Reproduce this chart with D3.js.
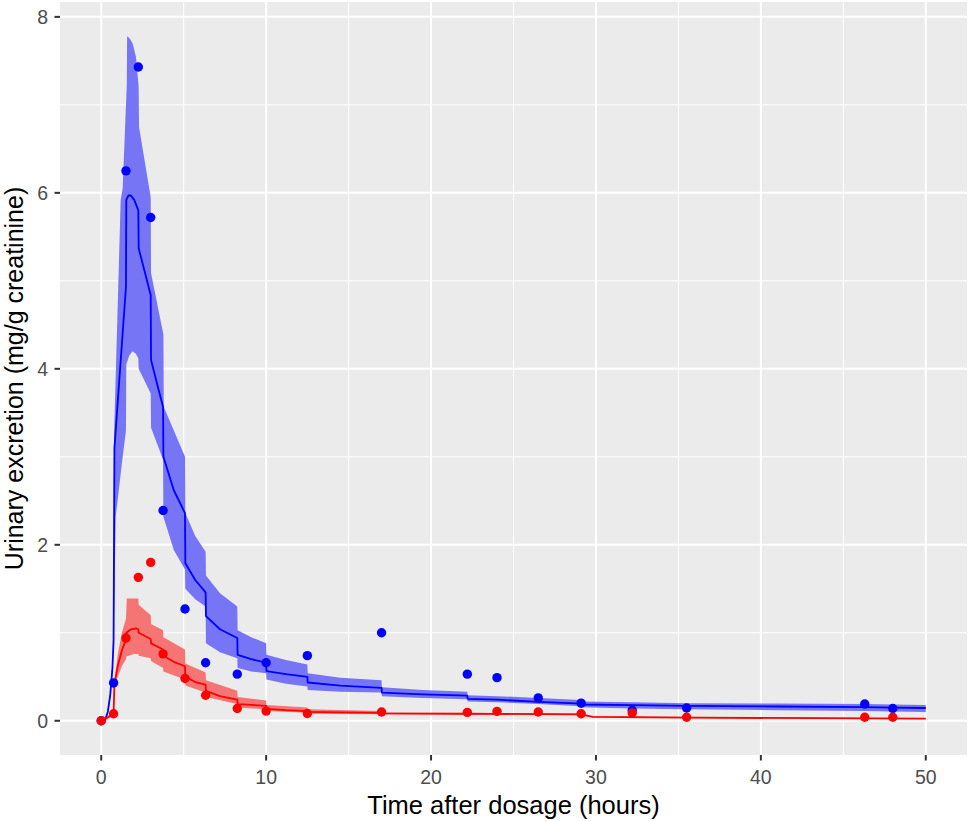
<!DOCTYPE html>
<html>
<head>
<meta charset="utf-8">
<script src="https://cdn.jsdelivr.net/npm/d3@7"></script>
<style>
  body { margin: 0; background: #fff; }
  svg { display: block; font-family: "Liberation Sans", Arial, sans-serif; }
</style>
</head>
<body>
<svg id="chart" width="968" height="821"></svg>
<script>
// observed urinary excretion (mg/g creatinine) by time after dosage (hours)
const obsTime = [0, 0.75, 1.5, 2.25, 3, 3.75, 5.08, 6.33, 8.25, 10, 12.5, 17, 22.2, 24, 26.5, 29.1, 32.2, 35.5, 46.3, 48];
const blueObs = [0, 0.43, 6.25, 7.43, 5.72, 2.39, 1.27, 0.66, 0.53, 0.66, 0.74, 1.0, 0.53, 0.49, 0.26, 0.20, 0.12, 0.145, 0.19, 0.14];
const redObs  = [0, 0.08, 0.94, 1.63, 1.80, 0.76, 0.48, 0.29, 0.14, 0.11, 0.083, 0.10, 0.095, 0.107, 0.10, 0.08, 0.088, 0.04, 0.04, 0.04];

// model prediction (median) and band, [time, value]
const blueMid = [[0,0],[0.25,0.02],[0.4,0.1],[0.55,0.3],[0.68,0.6],[0.75,0.92],[0.8,3.1],[1.5,4.93],[1.52,5.92],[1.65,5.97],[1.8,5.97],[2.0,5.92],[2.25,5.8],[2.27,5.37],[3.0,4.84],[3.02,4.1],[3.4,3.82],[3.75,3.57],[3.77,3.0],[4.4,2.62],[5.08,2.36],[5.1,1.79],[5.7,1.6],[6.33,1.46],[6.35,1.19],[7.2,1.04],[8.25,0.94],[8.27,0.75],[9.1,0.7],[10,0.66],[10.02,0.565],[11.2,0.53],[12.5,0.5],[12.52,0.435],[14.5,0.4],[17,0.375],[17.02,0.32],[19.5,0.3],[22.2,0.285],[22.22,0.25],[24,0.24],[26.5,0.215],[29.1,0.195],[29.12,0.185],[32.2,0.178],[35.5,0.17],[41,0.162],[46.3,0.155],[48,0.15],[50,0.145]];
const blueHi  = [[0,0],[0.25,0.03],[0.4,0.12],[0.55,0.33],[0.68,0.65],[0.75,1.0],[0.78,3.27],[1.18,5.92],[1.3,6.05],[1.55,7.23],[1.57,7.78],[1.7,7.76],[1.9,7.70],[2.1,7.55],[2.27,7.21],[2.29,6.75],[3.0,5.95],[3.02,5.09],[3.77,4.39],[3.79,3.57],[5.08,3.0],[5.1,2.36],[5.7,2.1],[6.33,1.92],[6.35,1.65],[7.2,1.45],[8.25,1.30],[8.27,1.03],[9.1,0.95],[10,0.88],[10.02,0.75],[11.2,0.69],[12.5,0.64],[12.52,0.54],[14.5,0.49],[17,0.46],[17.02,0.38],[19.5,0.35],[22.2,0.33],[22.22,0.29],[24,0.28],[26.5,0.26],[29.1,0.235],[29.12,0.22],[32.2,0.21],[35.5,0.2],[41,0.195],[46.3,0.19],[48,0.185],[50,0.18]];
const blueLo  = [[0,0],[0.25,0.01],[0.4,0.08],[0.55,0.27],[0.68,0.55],[0.75,0.9],[0.88,2.32],[1.28,2.97],[1.5,3.3],[1.52,4.05],[1.7,4.15],[1.9,4.2],[2.1,4.17],[2.25,4.12],[2.27,4.0],[3.0,3.72],[3.02,3.33],[3.75,2.97],[3.77,2.32],[4.4,1.94],[5.08,1.72],[5.1,1.5],[5.7,1.38],[6.33,1.30],[6.35,0.88],[7.2,0.78],[8.25,0.71],[8.27,0.6],[9.1,0.56],[10,0.54],[10.02,0.47],[11.2,0.42],[12.5,0.39],[12.52,0.35],[14.5,0.33],[17,0.32],[17.02,0.28],[19.5,0.26],[22.2,0.245],[22.22,0.22],[24,0.21],[26.5,0.19],[29.1,0.165],[29.12,0.155],[32.2,0.14],[35.5,0.13],[41,0.12],[46.3,0.11],[48,0.105],[50,0.1]];

const redMid = [[0,0],[0.25,0.02],[0.5,0.05],[0.75,0.09],[0.8,0.42],[1.0,0.62],[1.25,0.8],[1.5,0.92],[1.52,1.0],[1.8,1.04],[2.1,1.05],[2.25,1.04],[2.27,1.0],[3.0,0.93],[3.02,0.88],[3.75,0.81],[3.77,0.74],[4.4,0.67],[5.08,0.62],[5.1,0.5],[5.7,0.44],[6.33,0.41],[6.35,0.34],[7.2,0.28],[8.25,0.24],[8.27,0.19],[9.1,0.18],[10,0.17],[10.02,0.135],[11.2,0.12],[12.5,0.11],[12.52,0.1],[14.5,0.095],[17,0.09],[17.02,0.085],[22.2,0.08],[24,0.078],[29.1,0.073],[29.8,0.045],[35.5,0.035],[50,0.025]];
const redHi  = [[0,0],[0.75,0.1],[0.8,0.45],[1.0,0.75],[1.25,1.0],[1.5,1.16],[1.55,1.39],[2.25,1.39],[2.27,1.32],[3.0,1.2],[3.02,1.1],[3.75,1.03],[3.77,0.95],[5.08,0.81],[5.1,0.65],[6.33,0.55],[6.35,0.46],[8.25,0.34],[8.27,0.27],[10,0.23],[10.02,0.18],[12.5,0.15],[12.52,0.13],[17,0.11],[17.02,0.095],[29.1,0.082],[29.8,0.05],[50,0.03]];
const redLo  = [[0,0],[0.75,0.08],[0.8,0.38],[1.0,0.5],[1.25,0.62],[1.5,0.7],[1.52,0.73],[2.0,0.76],[2.25,0.76],[2.27,0.74],[3.0,0.71],[3.02,0.68],[3.75,0.6],[3.77,0.56],[5.08,0.47],[5.1,0.4],[6.33,0.32],[6.35,0.27],[8.25,0.19],[8.27,0.15],[10,0.13],[10.02,0.11],[12.5,0.09],[12.52,0.08],[17,0.075],[29.1,0.066],[29.8,0.04],[50,0.02]];

const xTicks = [0, 10, 20, 30, 40, 50];
const xMinor = [5, 15, 25, 35, 45];
const yTicks = [0, 2, 4, 6, 8];
const yMinor = [1, 3, 5, 7];

const panel = { left: 60, right: 967, top: 2, bottom: 755 };

const svg = d3.select("#chart");
const x = d3.scaleLinear().domain([-2.5, 52.5]).range([panel.left, panel.right]);
const y = d3.scaleLinear().domain([-0.389, 8.169]).range([panel.bottom, panel.top]);

// panel background
svg.append("rect")
    .attr("x", panel.left).attr("y", panel.top)
    .attr("width", panel.right - panel.left).attr("height", panel.bottom - panel.top)
    .attr("fill", "#EBEBEB");

// grid: minor first then major
const grid = svg.append("g").attr("stroke", "#fff");
grid.selectAll(".vminor").data(xMinor).join("line")
    .attr("x1", d => x(d)).attr("x2", d => x(d))
    .attr("y1", panel.top).attr("y2", panel.bottom).attr("stroke-width", 1);
grid.selectAll(".hminor").data(yMinor).join("line")
    .attr("y1", d => y(d)).attr("y2", d => y(d))
    .attr("x1", panel.left).attr("x2", panel.right).attr("stroke-width", 1);
grid.selectAll(".vmajor").data(xTicks).join("line")
    .attr("x1", d => x(d)).attr("x2", d => x(d))
    .attr("y1", panel.top).attr("y2", panel.bottom).attr("stroke-width", 2);
grid.selectAll(".hmajor").data(yTicks).join("line")
    .attr("y1", d => y(d)).attr("y2", d => y(d))
    .attr("x1", panel.left).attr("x2", panel.right).attr("stroke-width", 2);

const line = d3.line().x(d => x(d[0])).y(d => y(d[1]));

function drawBand(hi, lo, fill) {
    const poly = hi.concat(lo.slice().reverse());
    svg.append("path").attr("d", line(poly) + "Z").attr("fill", fill);
}

function drawLine(pts, color) {
    svg.append("path").attr("d", line(pts))
        .attr("fill", "none").attr("stroke", color)
        .attr("stroke-width", 1.8).attr("stroke-linejoin", "round");
}

function drawPoints(vals, color) {
    svg.append("g").selectAll("circle").data(vals).join("circle")
        .attr("cx", (d, i) => x(obsTime[i]))
        .attr("cy", d => y(d))
        .attr("r", 4.7)
        .attr("fill", color);
}

drawBand(blueHi, blueLo, "#7575F5");
drawLine(blueMid, "#0000FF");
drawBand(redHi, redLo, "#F57575");
drawLine(redMid, "#FF0000");
drawPoints(blueObs, "#0000FF");
drawPoints(redObs, "#FF0000");

// axes
const axis = svg.append("g");
axis.selectAll(".xt").data(xTicks).join("line")
    .attr("x1", d => x(d)).attr("x2", d => x(d))
    .attr("y1", panel.bottom).attr("y2", panel.bottom + 5.5)
    .attr("stroke", "#333").attr("stroke-width", 2);
axis.selectAll(".xl").data(xTicks).join("text")
    .attr("x", d => x(d)).attr("y", 784)
    .attr("text-anchor", "middle")
    .attr("font-size", 19.5).attr("fill", "#4D4D4D")
    .text(d => d);
axis.selectAll(".yt").data(yTicks).join("line")
    .attr("y1", d => y(d)).attr("y2", d => y(d))
    .attr("x1", panel.left - 5.5).attr("x2", panel.left)
    .attr("stroke", "#333").attr("stroke-width", 2);
axis.selectAll(".yl").data(yTicks).join("text")
    .attr("x", 48).attr("y", d => y(d))
    .attr("dy", "0.36em")
    .attr("text-anchor", "end")
    .attr("font-size", 19.5).attr("fill", "#4D4D4D")
    .text(d => d);

svg.append("text")
    .attr("x", (panel.left + panel.right) / 2).attr("y", 814)
    .attr("text-anchor", "middle").attr("font-size", 25.5).attr("fill", "#000")
    .text("Time after dosage (hours)");

svg.append("text")
    .attr("transform", `translate(23,${(panel.top + panel.bottom) / 2}) rotate(-90)`)
    .attr("text-anchor", "middle").attr("font-size", 25).attr("fill", "#000")
    .text("Urinary excretion (mg/g creatinine)");
</script>
</body>
</html>
